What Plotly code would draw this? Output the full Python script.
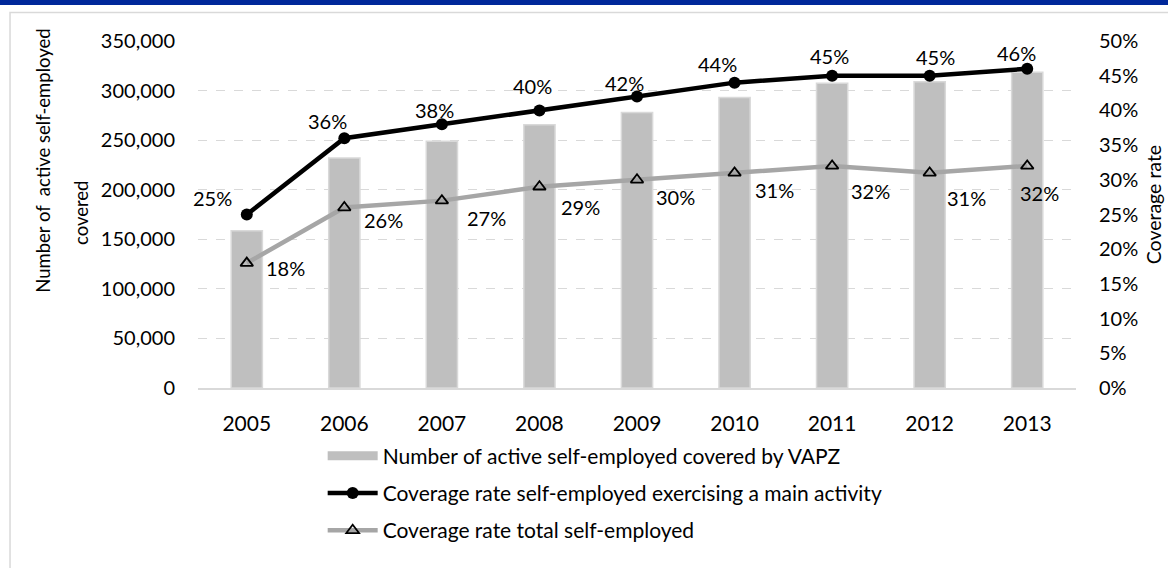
import plotly.graph_objects as go

years = ["2005", "2006", "2007", "2008", "2009", "2010", "2011", "2012", "2013"]
covered = [158500, 232000, 249000, 265500, 278000, 293000, 307400, 309000, 318500]
rate_main = [0.25, 0.36, 0.38, 0.40, 0.42, 0.44, 0.45, 0.45, 0.46]
rate_total = [0.18, 0.26, 0.27, 0.29, 0.30, 0.31, 0.32, 0.31, 0.32]

# label offsets (pixels) as placed in the original chart
main_dx = [-34, -17, -7, -7, -13, -17, -3, 6, -11]
main_dy = [17, 17, 14, 24, 14, 19, 20, 19, 16]
total_dx = [39, 39, 45, 41, 38, 40, 38, 37, 12]
total_dy = [-5, -12, -17, -20, -17, -17, -25, -25, -27]

xpos = list(range(len(years)))

FONT = "Lato"
FS = 20
BAR_NAME = "Number of active self-employed covered by VAPZ"

fig = go.Figure()
fig.add_trace(go.Bar(
    x=xpos, y=covered, name=BAR_NAME,
    marker=dict(color="#bfbfbf", line=dict(color="#d9d9d9", width=1.5)),
    width=0.32, legendgroup="a", showlegend=False,
))
# legend entry for the bars (wide swatch like the original)
fig.add_trace(go.Scatter(
    x=[None], y=[None], mode="lines", name=BAR_NAME,
    line=dict(color="#bfbfbf", width=9), legendgroup="a", hoverinfo="skip",
))
fig.add_trace(go.Scatter(
    x=xpos, y=rate_main, yaxis="y2", mode="lines+markers",
    name="Coverage rate self-employed exercising a main activity",
    line=dict(color="#000000", width=4.5),
    marker=dict(symbol="circle", size=12, color="#000000"),
    legendgroup="b",
))
fig.add_trace(go.Scatter(
    x=xpos, y=rate_total, yaxis="y2", mode="lines+markers",
    name="Coverage rate total self-employed",
    line=dict(color="#a6a6a6", width=4.5),
    marker=dict(symbol="triangle-up-open", size=11, color="#000000",
                line=dict(color="#000000", width=1.8)),
    legendgroup="c",
))

annotations = []
for i in xpos:
    annotations.append(dict(x=i, y=rate_main[i], xref="x", yref="y2",
                            text=f"{round(rate_main[i]*100)}%", showarrow=False,
                            xanchor="center", yanchor="middle",
                            xshift=main_dx[i], yshift=main_dy[i],
                            font=dict(family=FONT, size=FS, color="#000000")))
    annotations.append(dict(x=i, y=rate_total[i], xref="x", yref="y2",
                            text=f"{round(rate_total[i]*100)}%", showarrow=False,
                            xanchor="center", yanchor="middle",
                            xshift=total_dx[i], yshift=total_dy[i],
                            font=dict(family=FONT, size=FS, color="#000000")))

annotations += [
    dict(text="Number of\u00a0 active self-employed", xref="paper", yref="paper",
         x=-0.1765, y=0.655, textangle=-90, showarrow=False,
         xanchor="center", yanchor="middle",
         font=dict(family=FONT, size=18.5, color="#000000")),
    dict(text="covered", xref="paper", yref="paper",
         x=-0.1333, y=0.5043, textangle=-90, showarrow=False,
         xanchor="center", yanchor="middle",
         font=dict(family=FONT, size=18.5, color="#000000")),
    dict(text="Coverage rate", xref="paper", yref="paper",
         x=1.0878, y=0.527, textangle=-90, showarrow=False,
         xanchor="center", yanchor="middle",
         font=dict(family=FONT, size=19.5, color="#000000")),
]

shapes = [
    dict(type="rect", xref="paper", yref="paper", x0=-0.3, x1=1.2, y0=1.1037, y1=1.13,
         fillcolor="#00289a", line=dict(width=0), layer="above"),
    dict(type="rect", xref="paper", yref="paper", x0=-0.2141, x1=1.2, y0=-0.7, y1=1.0821,
         fillcolor="rgba(0,0,0,0)", line=dict(color="#d9d9d9", width=1.5), layer="below"),
]

fig.update_layout(
    width=1168, height=568,
    margin=dict(l=198, r=92, t=41, b=180),
    paper_bgcolor="white", plot_bgcolor="white",
    font=dict(family=FONT, size=FS, color="#000000"),
    showlegend=True,
    legend=dict(x=0.142, y=-0.137, xanchor="left", yanchor="top",
                orientation="v", tracegroupgap=7, traceorder="grouped",
                itemwidth=50,
                font=dict(family=FONT, size=21, color="#000000"),
                bgcolor="rgba(0,0,0,0)"),
    xaxis=dict(range=[-0.5, len(years) - 0.5], tickvals=xpos, ticktext=years,
               showline=True, linecolor="#d9d9d9", linewidth=1.5,
               ticks="", ticklabelstandoff=16, showgrid=False, zeroline=False,
               tickfont=dict(family=FONT, size=21)),
    yaxis=dict(range=[0, 350000], dtick=50000, tickformat=",", showgrid=True,
               gridcolor="#d9d9d9", griddash="dash", gridwidth=1.2, zeroline=False,
               showline=False, ticks="", ticklabelstandoff=22,
               tickfont=dict(family=FONT, size=FS)),
    yaxis2=dict(range=[0, 0.5], dtick=0.05, tickformat=".0%", overlaying="y",
                side="right", showgrid=False, zeroline=False, showline=False,
                ticks="", ticklabelstandoff=22, tickfont=dict(family=FONT, size=FS)),
    annotations=annotations,
    shapes=shapes,
)

fig.write_html("out.html")
